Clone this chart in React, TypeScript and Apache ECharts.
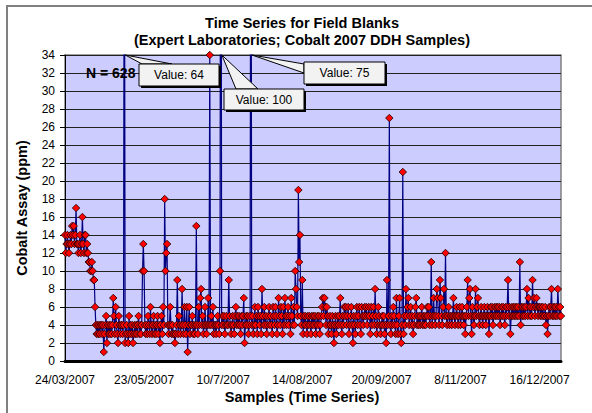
import React, { useEffect, useRef } from "react";
import * as echarts from "echarts";

const FONT = "'Liberation Sans', Arial, Helvetica, sans-serif";

const chartTitle = ["Time Series for Field Blanks", "(Expert Laboratories; Cobalt 2007 DDH Samples)"];
const xTitle = "Samples (Time Series)";
const yTitle = "Cobalt Assay (ppm)";
const dateLabels = ["24/03/2007", "23/05/2007", "10/7/2007", "14/08/2007", "20/09/2007", "8/11/2007", "16/12/2007"];
const yMin = 0;
const yMax = 34;
const yStep = 2;

// Cobalt assay values (ppm) of the 628 field blanks, in time order
const cobalt = [
  14, 12, 13, 14, 13, 12, 13, 14, 13, 15, 14, 15, 13, 14, 17, 13, 13, 12, 13, 14,
  12, 13, 16, 13, 12, 14, 14, 12, 13, 12, 11, 11, 10, 10, 11, 10, 9, 9, 6, 4,
  3, 4, 3, 4, 3, 4, 4, 3, 4, 1, 3, 4, 5, 2, 4, 3, 4, 3, 4, 3,
  4, 7, 5, 3, 6, 4, 3, 2, 5, 4, 3, 4, 4, 3, 4, 64, 2, 3, 4, 3,
  2, 5, 3, 4, 3, 4, 2, 3, 4, 3, 4, 3, 4, 5, 3, 4, 3, 4, 10, 13,
  10, 4, 3, 4, 3, 5, 4, 3, 6, 4, 3, 4, 5, 3, 4, 3, 4, 5, 3, 4,
  2, 4, 5, 3, 6, 4, 18, 10, 12, 13, 4, 3, 4, 6, 4, 3, 4, 3, 3, 2,
  3, 4, 9, 3, 5, 4, 3, 4, 8, 4, 3, 6, 4, 3, 6, 1, 4, 6, 3, 4,
  4, 5, 3, 4, 3, 4, 15, 4, 3, 6, 4, 7, 8, 4, 5, 3, 4, 6, 4, 3,
  4, 7, 4, 34, 4, 5, 4, 6, 3, 4, 4, 3, 4, 5, 4, 3, 10, 100, 4, 5,
  4, 5, 3, 4, 5, 4, 4, 9, 5, 4, 3, 4, 5, 4, 3, 5, 6, 4, 5, 4,
  5, 4, 3, 5, 4, 5, 7, 2, 4, 5, 4, 5, 3, 4, 5, 75, 4, 5, 3, 4,
  6, 4, 5, 3, 6, 5, 4, 5, 3, 8, 5, 4, 6, 4, 5, 3, 4, 5, 6, 4,
  5, 4, 3, 6, 5, 4, 6, 5, 3, 4, 7, 5, 4, 6, 5, 3, 6, 4, 7, 5,
  4, 5, 6, 4, 5, 3, 7, 5, 4, 6, 4, 10, 8, 6, 5, 19, 11, 14, 5, 4,
  9, 3, 5, 4, 5, 4, 3, 5, 4, 5, 4, 3, 5, 4, 5, 4, 5, 3, 4, 5,
  4, 5, 3, 4, 5, 6, 7, 5, 7, 6, 4, 6, 5, 3, 4, 5, 4, 3, 5, 4,
  2, 4, 5, 3, 4, 5, 4, 5, 7, 4, 3, 5, 4, 6, 5, 6, 4, 5, 6, 3,
  4, 5, 6, 4, 2, 5, 4, 3, 5, 6, 4, 5, 6, 4, 3, 6, 5, 4, 5, 6,
  5, 6, 4, 5, 6, 5, 3, 6, 4, 5, 6, 4, 8, 5, 3, 4, 6, 5, 4, 3,
  4, 5, 4, 5, 3, 4, 2, 9, 4, 5, 27, 4, 3, 5, 4, 6, 5, 4, 3, 7,
  4, 3, 5, 7, 3, 2, 4, 21, 3, 5, 4, 8, 5, 6, 7, 4, 5, 6, 4, 5,
  3, 4, 5, 6, 7, 4, 5, 4, 5, 4, 5, 6, 4, 5, 4, 5, 4, 5, 6, 5,
  6, 4, 5, 11, 4, 5, 7, 5, 4, 5, 8, 7, 5, 4, 9, 7, 5, 4, 6, 8,
  5, 12, 5, 4, 5, 6, 4, 5, 5, 4, 5, 7, 5, 4, 5, 6, 5, 4, 5, 6,
  4, 5, 6, 5, 4, 5, 3, 5, 6, 9, 5, 7, 8, 5, 3, 6, 5, 4, 5, 8,
  5, 6, 7, 5, 4, 5, 6, 5, 4, 5, 6, 5, 4, 5, 6, 5, 3, 5, 6, 5,
  6, 4, 5, 6, 5, 6, 5, 6, 5, 6, 4, 5, 6, 5, 6, 5, 4, 6, 5, 6,
  9, 5, 6, 3, 5, 6, 5, 6, 5, 6, 5, 6, 5, 6, 5, 11, 4, 6, 5, 6,
  5, 6, 5, 6, 8, 5, 7, 6, 5, 6, 5, 9, 6, 7, 5, 6, 7, 6, 5, 6,
  6, 5, 6, 5, 6, 5, 5, 6, 4, 5, 3, 5, 6, 5, 6, 8, 5, 6, 5, 6,
  5, 6, 5, 8, 6, 5, 6, 5,
];

const sampleIds = cobalt.map((_, i) => String(i + 1));

// callout boxes for the values beyond the axis maximum (box geometry only)
const calloutBoxes = [
  { x: 139, y: 64, w: 80, h: 22, base: [[172, 64], [142, 64]] },
  { x: 224, y: 89, w: 80, h: 21, base: [[236, 89], [258, 89]] },
  { x: 304, y: 62, w: 81, h: 22, base: [[304, 64], [304, 73]] },
];

export default function App() {
  const ref = useRef<HTMLDivElement>(null);

  useEffect(() => {
    if (!ref.current) return;
    const chart = echarts.init(ref.current, null, { renderer: "svg" });

    const option: any = {
      animation: false,
      backgroundColor: "#ffffff",
      textStyle: { fontFamily: FONT },
      grid: {
        left: 65,
        top: 55,
        right: 31,
        bottom: 52,
        show: true,
        backgroundColor: "#ccccff",
        borderColor: "#808080",
        borderWidth: 1.5,
      },
      xAxis: {
        type: "category",
        data: sampleIds,
        boundaryGap: false,
        axisLine: { show: true, lineStyle: { color: "#000", width: 3 } },
        axisTick: { show: false },
        axisLabel: {
          interval: 99,
          fontSize: 12,
          color: "#000",
          fontFamily: FONT,
          margin: 13,
          formatter: (_v: string, i: number) => (i % 100 === 0 ? dateLabels[i / 100] ?? "" : ""),
        },
        splitLine: { show: false },
      },
      yAxis: {
        type: "value",
        min: yMin,
        max: yMax,
        interval: yStep,
        axisLine: { show: true, lineStyle: { color: "#000", width: 1 } },
        axisTick: { show: true, length: 5, lineStyle: { color: "#000" } },
        axisLabel: { fontSize: 12, color: "#000", fontFamily: FONT, margin: 10 },
        splitLine: { show: true, lineStyle: { color: "#222", width: 1.2 } },
      },
      series: [
        {
          type: "line",
          data: cobalt,
          clip: true,
          symbol: "diamond",
          symbolSize: 7.5,
          showAllSymbol: true,
          lineStyle: { color: "#000080", width: 1.2 },
          itemStyle: { color: "#ff0000", borderColor: "#200000", borderWidth: 0.8 },
          emphasis: { disabled: true },
          z: 3,
        },
      ],
    };
    chart.setOption(option);

    // values beyond the axis
    const over = cobalt
      .map((v, i) => ({ v, i }))
      .filter((d) => d.v > yMax);

    const graphics: any[] = [
      {
        type: "rect",
        shape: { x: 7, y: 6, width: 640, height: 460 },
        style: { fill: "none", stroke: "#808080", lineWidth: 2 },
        silent: true,
      },
      {
        type: "text",
        x: 302,
        y: 23,
        style: { text: chartTitle[0], font: `bold 14.5px ${FONT}`, fill: "#000", align: "center", verticalAlign: "middle" },
      },
      {
        type: "text",
        x: 302,
        y: 40,
        style: { text: chartTitle[1], font: `bold 14.5px ${FONT}`, fill: "#000", align: "center", verticalAlign: "middle" },
      },
      {
        type: "text",
        x: 302,
        y: 397,
        style: { text: xTitle, font: `bold 14.5px ${FONT}`, fill: "#000", align: "center", verticalAlign: "middle" },
      },
      {
        type: "text",
        x: 22,
        y: 208,
        rotation: Math.PI / 2,
        style: { text: yTitle, font: `bold 14.5px ${FONT}`, fill: "#000", align: "center", verticalAlign: "middle" },
      },
      {
        type: "text",
        x: 86,
        y: 73,
        z: 50,
        style: { text: `N = ${cobalt.length}`, font: `bold 14px ${FONT}`, fill: "#000", align: "left", verticalAlign: "middle" },
      },
    ];

    over.forEach((d, k) => {
      const b = calloutBoxes[k];
      if (!b) return;
      const tip = chart.convertToPixel({ xAxisIndex: 0, yAxisIndex: 0 }, [d.i, yMax]) as number[];
      graphics.push({
        type: "rect",
        z: 60,
        shape: { x: b.x + 2, y: b.y + 2, width: b.w, height: b.h },
        style: { fill: "#000" },
      });
      graphics.push({
        type: "polygon",
        z: 61,
        shape: { points: [[tip[0] + 1, tip[1]], b.base[0], b.base[1]] },
        style: { fill: "#f2f2f2", stroke: "#000", lineWidth: 1 },
      });
      graphics.push({
        type: "rect",
        z: 62,
        shape: { x: b.x, y: b.y, width: b.w, height: b.h },
        style: { fill: "#f2f2f2", stroke: "#000", lineWidth: 1 },
      });
      graphics.push({
        type: "text",
        z: 63,
        x: b.x + b.w / 2,
        y: b.y + b.h / 2,
        style: { text: `Value: ${d.v}`, font: `12px ${FONT}`, fill: "#000", align: "center", verticalAlign: "middle" },
      });
    });

    chart.setOption({ graphic: graphics });

    return () => chart.dispose();
  }, []);

  return (
    <div
      ref={ref}
      style={{ position: "absolute", left: 0, top: 0, width: 592, height: 413, background: "#fff" }}
    />
  );
}
